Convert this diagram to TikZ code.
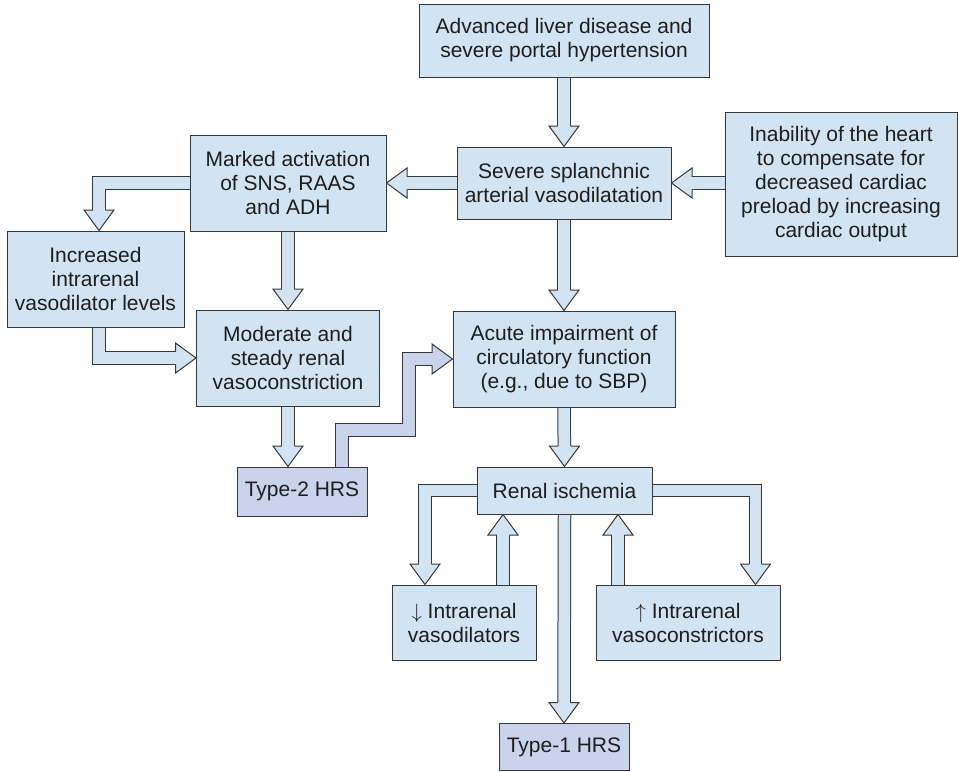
\documentclass[tikz,border=0pt]{standalone}
\usepackage{fontspec}
\setmainfont{Liberation Sans}
\usepackage{tikz}
\usetikzlibrary{arrows,%
                shapes,positioning,calc,backgrounds}

\definecolor{boxblue}{RGB}{210,228,242}
\definecolor{boxlav}{RGB}{201,211,236}
\definecolor{edgegray}{RGB}{55,55,55}
\definecolor{textgray}{RGB}{30,30,30}

\newcommand\fathead[3][boxblue]{%
  \filldraw[fill=#1, draw=edgegray, line width=1pt]
    ([shift={(#3+180:20.5pt)}, shift={(#3+90:6.25pt)}]#2) --
    ([shift={(#3+180:20.5pt)}, shift={(#3+90:15pt)}]#2) -- (#2) --
    ([shift={(#3+180:20.5pt)}, shift={(#3-90:15pt)}]#2) --
    ([shift={(#3+180:20.5pt)}, shift={(#3-90:6.25pt)}]#2);}

\begin{document}
\begin{tikzpicture}[x=1pt,y=-1pt,
  box/.style={draw=edgegray, fill=#1, line width=1pt, inner sep=0pt,
    align=center, text=textgray, font=\fontsize{21}{24}\selectfont},
  box/.default=boxblue,
  sz/.style 2 args={minimum width=#1pt, minimum height=#2pt},
  fat/.style={draw=edgegray, line width=1pt, double=#1, double distance=11.5pt,
    shorten >=20pt, shorten <=-2pt},
  fat/.default=boxblue]
\useasboundingbox (0,0) rectangle (958,771);
\node[box, sz={290}{73}] (top) at (564,40.5) {Advanced liver disease and\\severe portal hypertension};
\node[box, sz={214}{72}] (splanch) at (564,183) {Severe splanchnic\\arterial vasodilatation};
\node[box, sz={196}{96}] (marked) at (288,183) {Marked activation\\of SNS, RAAS\\and ADH};
\node[box, sz={232}{144}] (inab) at (841,184) {Inability of the heart\\to compensate for\\decreased cardiac\\preload by increasing\\cardiac output};
\node[box, sz={177}{96}] (incr) at (95.5,279) {Increased\\intrarenal\\vasodilator levels};
\node[box, sz={183}{96}] (moder) at (288,358) {Moderate and\\steady renal\\vasoconstriction};
\node[box, sz={222}{96}] (acute) at (564,359) {Acute impairment of\\circulatory function\\(e.g., due to SBP)};
\node[box=boxlav, sz={130}{49}] (type2) at (302,491.5) {Type-2 HRS};
\node[box, sz={175}{47}] (renal) at (564.5,490.5) {Renal ischemia};
\node[box, sz={144}{75}] (vdil) at (464,622.5) {$\downarrow$ Intrarenal\\vasodilators};
\node[box, sz={184}{75}] (vcon) at (688,622.5) {$\uparrow$ Intrarenal\\vasoconstrictors};
\node[box=boxlav, sz={130}{47}] (type1) at (564,747) {Type-1 HRS};

\coordinate (kinc) at ([xshift=3.5pt]incr.north);
\coordinate (kincs) at ([xshift=3.5pt]incr.south);
\coordinate (ht2) at (moder.south |- type2.north);
\coordinate (kt2) at ([xshift=40pt]type2.north);
\coordinate (kbend) at (409,430);
\coordinate (kvdl) at ([xshift=-39pt]vdil.north);
\coordinate (kvdr) at ([xshift=39pt]vdil.north);
\coordinate (kvcl) at ([xshift=-70pt]vcon.north);
\coordinate (kvcr) at ([xshift=67.5pt]vcon.north);
\coordinate (hvd) at (kvdr |- renal.south);
\coordinate (hvc) at (kvcl |- renal.south);

\begin{scope}[on background layer]
\draw[fat] (top.south) -- (splanch.north);
\fathead{splanch.north}{-90}
\draw[fat] (splanch.west) -- (marked.east);
\fathead{marked.east}{180}
\draw[fat] (inab.west |- splanch.east) -- (splanch.east);
\fathead{splanch.east}{180}
\draw[fat] (splanch.south) -- (acute.north);
\fathead{acute.north}{-90}
\draw[fat] (marked.south) -- (moder.north);
\fathead{moder.north}{-90}
\draw[fat] (marked.west) -| (kinc);
\fathead{kinc}{-90}
\draw[fat] (kincs) |- (moder.west);
\fathead{moder.west}{0}
\draw[fat] (moder.south) -- (ht2);
\fathead{ht2}{-90}
\draw[fat=boxlav] (kt2) |- (kbend) |- (acute.west);
\fathead[boxlav]{acute.west}{0}
\draw[fat] (acute.south) -- (renal.north);
\fathead{renal.north}{-90}
\draw[fat] (renal.west) -| (kvdl);
\fathead{kvdl}{-90}
\draw[fat] (kvdr) -- (hvd);
\fathead{hvd}{90}
\draw[fat] (renal.east) -| (kvcr);
\fathead{kvcr}{-90}
\draw[fat] (kvcl) -- (hvc);
\fathead{hvc}{90}
\draw[fat] (renal.south) -- (type1.north);
\fathead{type1.north}{-90}
\end{scope}
\end{tikzpicture}
\end{document}
